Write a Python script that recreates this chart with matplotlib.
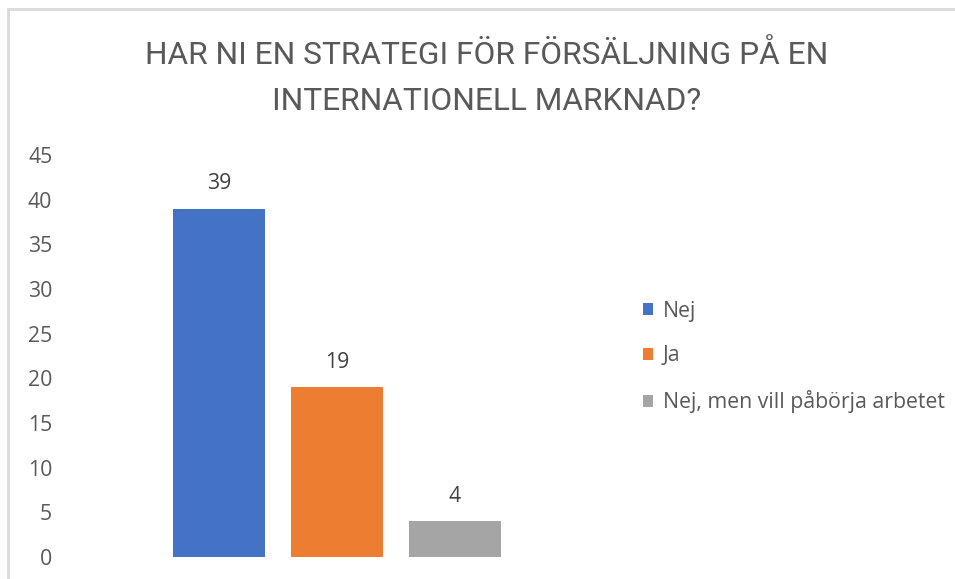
import matplotlib
matplotlib.use("Agg")
import matplotlib.pyplot as plt
from matplotlib.patches import Patch, Rectangle

TITLE_LINES = ["HAR NI EN STRATEGI FÖR FÖRSÄLJNING PÅ EN", "INTERNATIONELL MARKNAD?"]
SERIES = ["Nej", "Ja", "Nej, men vill påbörja arbetet"]
VALUES = [39, 19, 4]
COLORS = ["#4472C4", "#ED7D31", "#A5A5A5"]
YTICKS = [0, 5, 10, 15, 20, 25, 30, 35, 40, 45]

W, H = 955, 579
TXT = "#595959"
FS = 15.3

fig = plt.figure(figsize=(W / 100, H / 100), dpi=100)
fig.patch.set_facecolor("white")

# light frame, cropped at right and bottom like the screenshot
fig.patches.append(Rectangle((8 / W, -0.05), 1.1, 1 - 9 / H + 0.05, transform=fig.transFigure,
                             fill=False, edgecolor="#D9D9D9", linewidth=2))

# plot area: value 0 at y=557 px, 45 at y=155 px
x0, x1 = 62, 600
ax = fig.add_axes([x0 / W, (H - 557) / H, (x1 - x0) / W, (557 - 155) / H])
step, cx = 118, 219  # px between bar centres, first centre
ax.set_xlim((x0 - cx) / step, (x1 - cx) / step)
ax.set_ylim(0, 45)

pos = list(range(len(VALUES)))
bars = ax.bar(pos, VALUES, width=92 / step, color=COLORS)
for b, v in zip(bars, VALUES):
    ax.annotate(str(v), (b.get_x() + b.get_width() / 2, v), xytext=(0, 18),
                textcoords="offset points", ha="center", va="center",
                fontsize=FS, color="#404040", family="Open Sans")

ax.set_yticks(YTICKS)
ax.set_yticklabels([str(t) for t in YTICKS], fontsize=FS, color=TXT, family="Open Sans")
ax.set_xticks([])
ax.tick_params(axis="y", length=0, pad=7)
for s in ax.spines.values():
    s.set_visible(False)

for i, line in enumerate(TITLE_LINES):
    fig.text(487 / W, 1 - (55 + 46 * i) / H, line, ha="center", va="center",
             fontsize=22.8, color=TXT, family="Roboto")

handles = [Patch(facecolor=c, edgecolor="none") for c in COLORS]
fig.legend(handles, SERIES, loc="center left", bbox_to_anchor=(643 / W, 1 - 357 / H),
           frameon=False, borderpad=0, borderaxespad=0, handlelength=0.47, handleheight=0.47,
           handletextpad=0.47, labelspacing=1.12, prop={"family": "Open Sans", "size": FS},
           labelcolor=TXT)

fig.savefig("out.png", dpi=100)
